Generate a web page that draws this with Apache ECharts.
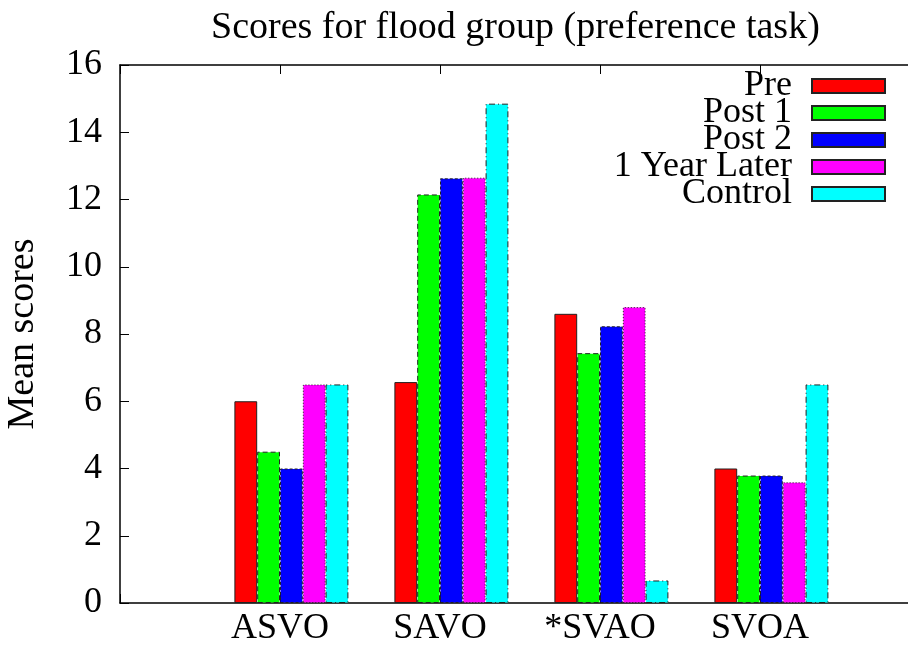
<!DOCTYPE html>
<html>
<head>
<meta charset="utf-8">
<script src="https://cdn.jsdelivr.net/npm/echarts@6/dist/echarts.min.js"></script>
<style>
  html, body { margin: 0; padding: 0; background: #fff; }
  #main { width: 908px; height: 645px; }
</style>
</head>
<body>
<div id="main"></div>
<script>
// categories on the x axis (gnuplot leaves an empty slot each side)
const categories = ['ASVO', 'SAVO', '*SVAO', 'SVOA'];
const slots = [''].concat(categories, [' ']);

const seriesNames = ['Pre', 'Post 1', 'Post 2', '1 Year Later', 'Control'];
const pre      = [6.0, 6.57, 8.6, 4.0];
const post1    = [4.5, 12.15, 7.43, 3.79];
const post2    = [4.0, 12.63, 8.23, 3.79];
const yearLater = [6.5, 12.65, 8.8, 3.59];
const control  = [6.5, 14.85, 0.67, 6.5];

const yTicks = [0, 2, 4, 6, 8, 10, 12, 14, 16];

const colors = ['#ff0000', '#00ff00', '#0000ff', '#ff00ff', '#00ffff'];
const dashes = ['solid', [5, 3], [3, 2], [1, 2], [6, 3, 1, 3]];
const values = [pre, post1, post2, yearLater, control];

const FONT = 'Liberation Serif';

const chart = echarts.init(document.getElementById('main'));

const series = seriesNames.map(function (name, i) {
  return {
    name: name,
    type: 'bar',
    xAxisIndex: 2,
    yAxisIndex: 1,
    barWidth: 22.8,
    barGap: '0%',
    data: [null].concat(values[i], [null]),
    itemStyle: {
      color: colors[i],
      borderColor: '#222',
      borderWidth: 1,
      borderType: dashes[i]
    }
  };
});

const option = {
  animation: false,
  title: {
    text: 'Scores for flood group (preference task)',
    left: 206,
    top: 4,
    textStyle: { fontFamily: FONT, fontSize: 38, fontWeight: 'normal', color: '#000' }
  },
  legend: {
    data: seriesNames,
    orient: 'vertical',
    right: 22,
    top: 68,
    align: 'right',
    icon: 'rect',
    itemWidth: 73,
    itemHeight: 14,
    itemGap: -9,
    padding: 0,
    textStyle: {
      fontFamily: FONT, fontSize: 36, color: '#000',
      padding: [0, 15, 0, 0]
    }
  },
  // plot box runs past the right edge of the picture, as in the original
  grid: [
    { left: 120, right: -12, top: 65, bottom: 42, outerBoundsMode: 'none' },
    { left: 131.4, right: -23.4, top: 65, bottom: 42, outerBoundsMode: 'none' }
  ],
  xAxis: [
    {
      gridIndex: 0, type: 'category', data: slots, boundaryGap: false,
      axisLine: { lineStyle: { color: '#000', width: 1.5 } },
      axisTick: { inside: true, length: 9, lineStyle: { color: '#000' } },
      axisLabel: { fontFamily: FONT, fontSize: 36, color: '#000', margin: 8 }
    },
    {
      gridIndex: 0, type: 'category', data: slots, boundaryGap: false, position: 'top',
      axisLine: { lineStyle: { color: '#000', width: 1.5 } },
      axisTick: { inside: true, length: 9, lineStyle: { color: '#000' } },
      axisLabel: { show: false }
    },
    {
      gridIndex: 1, type: 'category', data: slots, boundaryGap: false, show: false,
      axisLine: { show: false }, axisTick: { show: false }, axisLabel: { show: false }
    }
  ],
  yAxis: [
    {
      gridIndex: 0, type: 'value', min: yTicks[0], max: yTicks[yTicks.length - 1], interval: 2,
      name: 'Mean scores', nameLocation: 'middle', nameGap: 78,
      nameTextStyle: { fontFamily: FONT, fontSize: 38, color: '#000' },
      axisLine: { show: true, lineStyle: { color: '#000', width: 1.5 } },
      axisTick: { show: true, inside: true, length: 9, lineStyle: { color: '#000' } },
      axisLabel: { fontFamily: FONT, fontSize: 36, color: '#000', margin: 18 },
      splitLine: { show: false }
    },
    {
      gridIndex: 1, type: 'value', min: 0, max: 16, show: false,
      axisLine: { show: false }, splitLine: { show: false }
    }
  ],
  series: series
};

chart.setOption(option);
</script>
</body>
</html>
